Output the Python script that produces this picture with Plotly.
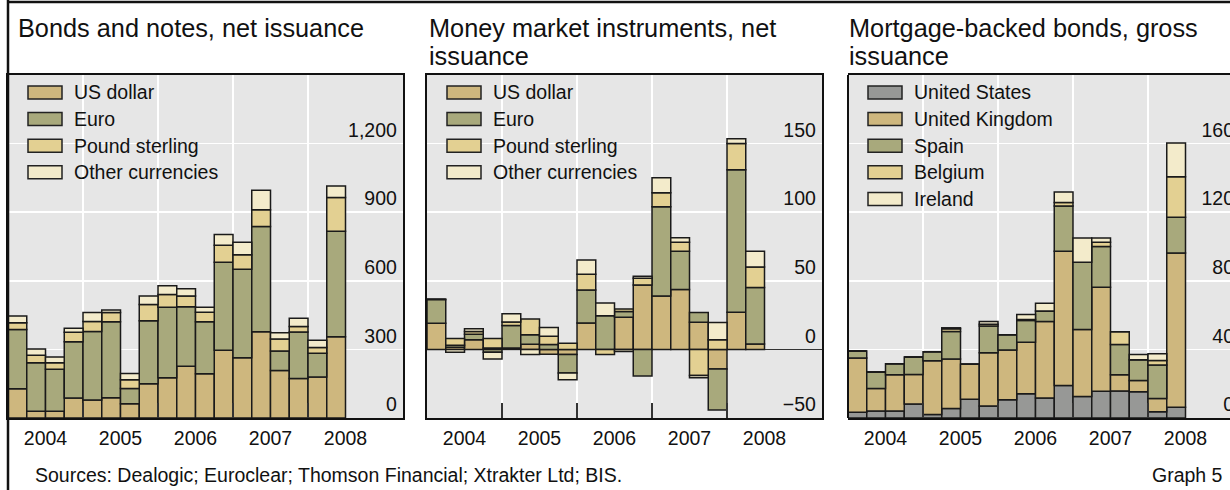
import plotly.graph_objects as go

# ---------------- data ----------------
quarters = ["2004Q1", "2004Q2", "2004Q3", "2004Q4", "2005Q1", "2005Q2", "2005Q3", "2005Q4",
            "2006Q1", "2006Q2", "2006Q3", "2006Q4", "2007Q1", "2007Q2", "2007Q3", "2007Q4",
            "2008Q1", "2008Q2"]
year_labels = ["2004", "2005", "2006", "2007", "2008"]

# Bonds and notes, net issuance
bonds_usd = [128, 29, 29, 88, 79, 89, 62, 150, 176, 226, 194, 296, 263, 377, 208, 173, 179, 355]
bonds_eur = [259, 213, 184, 246, 299, 332, 67, 275, 308, 261, 227, 385, 388, 461, 85, 203, 104, 462]
bonds_gbp = [30, 32, 29, 41, 44, 40, 38, 71, 56, 47, 41, 74, 63, 73, 52, 24, 25, 147]
bonds_oth = [29, 28, 25, 18, 39, 11, 28, 38, 38, 31, 22, 47, 55, 85, 28, 36, 32, 51]

# Money market instruments, net issuance
mm_usd = [19, 1.5, 7, 1, 1, 3.7, -3.5, -3.7, 19.3, 0, 23.5, 47, 39, 43.6, 19.8, -14.3, 27, 3.9]
mm_eur = [17.3, 1.5, 4, -2, 16.5, 6.9, 3.5, -13.5, 24, 24.5, 4.2, -19.3, 64.9, 27.9, 7.1, -29.8, 104, 41.2]
mm_gbp = [0.3, 5, 2, 7, 2.5, 11.5, 6, 4.4, 11.5, -3.7, 1.8, 4.9, 10.3, 6.6, -19.1, 7, 19.1, 15]
mm_oth = [0, -2, 2, -5, 6, -3.7, 6.5, -4.9, 10.3, 9.3, -1.5, 1.5, 11, 3.2, -1.5, 12.6, 3.4, 11.5]

# Mortgage-backed bonds, gross issuance
mbs_us = [3.3, 4.1, 4.1, 8.2, 2, 5.5, 11, 7, 10.6, 14.1, 11.7, 19, 12.5, 15.6, 15.8, 15.3, 3.7, 6.3]
mbs_uk = [31.7, 13.1, 21.1, 17.2, 31.4, 28.9, 20.3, 31.1, 29.1, 30.1, 44.6, 78.2, 39.1, 60.7, 9.4, 6.6, 7.6, 89.9]
mbs_es = [4.1, 9.6, 6.5, 10.2, 5.3, 16.1, 0, 15.5, 8.8, 12.7, 6.1, 26.4, 39.2, 23.7, 17.6, 12.1, 19.6, 20.8]
mbs_be = [0, 0, 0, 0, 0, 1.5, 0, 1, 0, 0.5, 0, 2, 0, 2.5, 7.5, 0, 2.7, 23.6]
mbs_ie = [0, 0, 0, 0, 0, 0.6, 0, 1.7, 0, 3, 4.5, 6.2, 14.2, 2.5, 0, 3, 3.8, 19.8]

currency_names = ["US dollar", "Euro", "Pound sterling", "Other currencies"]
country_names = ["United States", "United Kingdom", "Spain", "Belgium", "Ireland"]

bonds_ticks = [0, 300, 600, 900, 1200]
mm_ticks = [-50, 0, 50, 100, 150]
mbs_ticks = [0, 40, 80, 120, 160]

# ---------------- style ----------------
W, H = 1230, 490
FONT = "Liberation Sans, Arial, Helvetica, sans-serif"
TXT = "#111111"
TAN = "#CEB77E"
OLIVE = "#A8A97C"
LTAN = "#E3D092"
CREAM = "#F3EBCB"
GREY = "#979896"
EDGE = "#1a1a1a"
BG = "#E6E6E6"

TICK_FS = 19.5
TITLE_FS = 25.3


def pxx(p):
    return p / W


def pxy(p):
    return 1 - p / H


PLOT_TOP, PLOT_BOT = 75, 418
ydom = [pxy(PLOT_BOT), pxy(PLOT_TOP)]
YEAR_PX = 75.0

xpos = [int(q[:4]) + (int(q[5]) - 1) / 4 + 0.125 for q in quarters]
year_mid = [int(y) + 0.5 for y in year_labels]
year_bounds = [int(y) for y in year_labels[1:]]

panels = [
    dict(key="", left=8, right=403, names=currency_names,
         series=[bonds_usd, bonds_eur, bonds_gbp, bonds_oth],
         colors=[TAN, OLIVE, LTAN, CREAM], yr=[0, 1500], ticks=bonds_ticks,
         title=["Bonds and notes, net issuance"], tleft=16, zero=False, standoff=6, box=True),
    dict(key="2", left=427, right=822, names=currency_names,
         series=[mm_usd, mm_eur, mm_gbp, mm_oth],
         colors=[TAN, OLIVE, LTAN, CREAM], yr=[-50, 200], ticks=mm_ticks,
         title=["Money market instruments, net", "issuance"], tleft=427, zero=True, standoff=6, box=True),
    dict(key="3", left=848, right=1230, names=country_names,
         series=[mbs_us, mbs_uk, mbs_es, mbs_be, mbs_ie],
         colors=[GREY, TAN, OLIVE, LTAN, CREAM], yr=[0, 200], ticks=mbs_ticks,
         title=["Mortgage-backed bonds, gross", "issuance"], tleft=847, zero=False, standoff=6 - 13, box=False),
]

fig = go.Figure()
annotations = []
shapes = []

for p in panels:
    k = p["key"]
    xa, ya = "x" + k, "y" + k
    for name, vals, col in zip(p["names"], p["series"], p["colors"]):
        fig.add_trace(go.Bar(
            x=xpos, y=vals, name=name, width=0.25,
            marker=dict(color=col, line=dict(color=EDGE, width=1.5)),
            xaxis=xa, yaxis=ya, showlegend=False, hoverinfo="skip"))

    span = (p["right"] - p["left"]) / YEAR_PX
    xaxis = dict(
        domain=[pxx(p["left"]), pxx(p["right"])], range=[2004, 2004 + span],
        anchor=ya, tickmode="array", tickvals=year_mid, ticktext=year_labels,
        ticks="", showgrid=False, zeroline=False,
        showline=True, mirror=True, linecolor=TXT, linewidth=2,
        tickfont=dict(size=TICK_FS, color=TXT, family=FONT), ticklabelstandoff=2,
        minor=dict(tickmode="array", tickvals=year_bounds, showgrid=True,
                   gridcolor="white", gridwidth=1.5, ticks="inside",
                   ticklen=15, tickcolor="#333333", tickwidth=1.5),
        fixedrange=True,
    )
    yaxis = dict(
        domain=ydom, range=p["yr"], anchor=xa, side="right",
        tickmode="array", tickvals=p["ticks"], tickformat=",",
        ticks="", ticklabelposition="inside top", ticklabelstandoff=p["standoff"],
        ticklabeloverflow="allow",
        showgrid=True, gridcolor="white", gridwidth=1.5,
        zeroline=p["zero"], zerolinecolor="#333333", zerolinewidth=1.5,
        showline=p["box"], mirror=p["box"], linecolor=TXT, linewidth=2,
        tickfont=dict(size=TICK_FS, color=TXT, family=FONT),
        fixedrange=True,
    )
    fig.update_layout(**{"xaxis" + k: xaxis, "yaxis" + k: yaxis})

    if not p["box"]:
        shapes.append(dict(type="line", xref="paper", yref="paper",
                           x0=pxx(p["left"]), x1=pxx(p["left"]),
                           y0=pxy(PLOT_TOP), y1=pxy(PLOT_BOT),
                           line=dict(color=TXT, width=2)))

    # titles
    for i, line in enumerate(p["title"]):
        annotations.append(dict(
            text=line, xref="paper", yref="paper", x=pxx(p["tleft"]), y=pxy(28 + 28.5 * i),
            xanchor="left", yanchor="middle", showarrow=False,
            font=dict(size=TITLE_FS, color=TXT, family=FONT)))

    # legend (manual)
    for i, (name, col) in enumerate(zip(p["names"], p["colors"])):
        cy = 92.5 + 26.6 * i
        shapes.append(dict(type="rect", xref="paper", yref="paper",
                           x0=pxx(p["left"] + 20), x1=pxx(p["left"] + 54),
                           y0=pxy(cy + 6.5), y1=pxy(cy - 6.5),
                           fillcolor=col, line=dict(color="#222222", width=1.5)))
        annotations.append(dict(
            text=name, xref="paper", yref="paper", x=pxx(p["left"] + 64), y=pxy(cy),
            xanchor="left", yanchor="middle", showarrow=False,
            font=dict(size=TICK_FS, color=TXT, family=FONT)))

# outer frame (top and left visible)
shapes.append(dict(type="line", xref="paper", yref="paper", x0=pxx(8), x1=1.01,
                   y0=pxy(2), y1=pxy(2), line=dict(color=TXT, width=2.5)))
shapes.append(dict(type="line", xref="paper", yref="paper", x0=pxx(8), x1=pxx(8),
                   y0=1.01, y1=-0.01, line=dict(color=TXT, width=2.5)))

annotations.append(dict(
    text="Sources: Dealogic; Euroclear; Thomson Financial; Xtrakter Ltd; BIS.",
    xref="paper", yref="paper", x=pxx(33), y=pxy(475), xanchor="left", yanchor="middle",
    showarrow=False, font=dict(size=TICK_FS, color=TXT, family=FONT)))
annotations.append(dict(
    text="Graph 5", xref="paper", yref="paper", x=pxx(1225), y=pxy(475),
    xanchor="right", yanchor="middle", showarrow=False,
    font=dict(size=TICK_FS, color=TXT, family=FONT)))

fig.update_layout(
    width=W, height=H, margin=dict(l=0, r=0, t=0, b=0, autoexpand=False),
    paper_bgcolor="white", plot_bgcolor=BG, barmode="relative", bargap=0,
    showlegend=False, font=dict(family=FONT, color=TXT),
    annotations=annotations, shapes=shapes,
)

fig.write_html(
    "out.html",
    config={"displayModeBar": False, "staticPlot": True},
    post_script="document.body.style.margin='0';document.body.style.overflow='hidden';",
)
